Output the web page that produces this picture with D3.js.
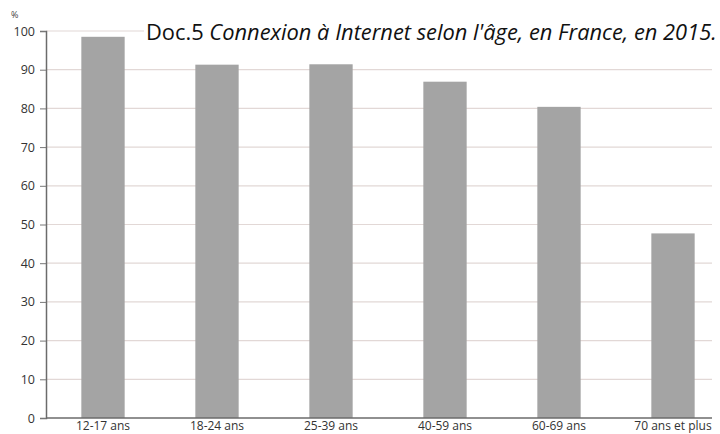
<!DOCTYPE html>
<html>
<head>
<meta charset="utf-8">
<script src="https://cdnjs.cloudflare.com/ajax/libs/d3/7.8.5/d3.min.js"></script>
<style>
	body { margin: 0; background: #fff; }
	svg { display: block; }
</style>
</head>
<body>
<svg id="chart" width="720" height="434"></svg>
<script>
// age groups and share connected (%)
var ageGroups = ['12-17 ans', '18-24 ans', '25-39 ans', '40-59 ans', '60-69 ans', '70 ans et plus'];
var connectPct = [98.5, 91.3, 91.4, 86.9, 80.4, 47.7];
var yTicks = [0, 10, 20, 30, 40, 50, 60, 70, 80, 90, 100];

var svg = d3.select('#chart');

var x = d3.scaleBand()
	.domain(ageGroups)
	.range([46, 730])
	.paddingInner(0.62)
	.paddingOuter(0.31);

var y = d3.scaleLinear()
	.domain([0, 100])
	.range([418, 31]);

// gridlines
svg.append('g')
	.selectAll('line')
	.data(yTicks.slice(1))
	.enter()
	.append('line')
	.attr('x1', 46)
	.attr('x2', 712)
	.attr('y1', function(d) { return y(d); })
	.attr('y2', function(d) { return y(d); })
	.attr('stroke', '#e2d8d6')
	.attr('stroke-width', 1.2);

// bars
svg.append('g')
	.selectAll('rect')
	.data(connectPct)
	.enter()
	.append('rect')
	.attr('x', function(d, i) { return x(ageGroups[i]); })
	.attr('width', x.bandwidth())
	.attr('y', function(d) { return y(d); })
	.attr('height', function(d) { return y(0) - y(d); })
	.attr('fill', '#a4a4a4');

// y axis
var yAxis = svg.append('g')
	.attr('transform', 'translate(46,0)')
	.call(d3.axisLeft(y).tickValues(yTicks).tickSize(6).tickPadding(5));
yAxis.select('.domain').attr('stroke', '#6b6b6b').attr('stroke-width', 1.5);
yAxis.selectAll('.tick line').attr('stroke', '#777');
yAxis.selectAll('.tick text')
	.attr('fill', '#333')
	.style('font-family', '"Open Sans", sans-serif')
	.style('font-size', '12.5px');

// baseline
svg.append('line')
	.attr('x1', 46).attr('x2', 712)
	.attr('y1', y(0)).attr('y2', y(0))
	.attr('stroke', '#6b6b6b')
	.attr('stroke-width', 1.5);

// x labels
svg.append('g')
	.selectAll('text')
	.data(ageGroups)
	.enter()
	.append('text')
	.attr('x', function(d) { return x(d) + x.bandwidth() / 2; })
	.attr('y', 430)
	.attr('text-anchor', 'middle')
	.attr('fill', '#333')
	.style('font-family', '"Open Sans", sans-serif')
	.style('font-size', '12px')
	.text(function(d) { return d; });

// unit label
svg.append('text')
	.attr('x', 11).attr('y', 18)
	.attr('fill', '#444')
	.style('font-family', '"Open Sans", sans-serif')
	.style('font-size', '9px')
	.text('%');

// title with white box over the 100 gridline
var titleG = svg.append('g');
var titleBox = titleG.append('rect').attr('fill', '#fff');
var title = titleG.append('text')
	.attr('x', 146).attr('y', 40)
	.attr('fill', '#111')
	.style('font-family', '"Open Sans", sans-serif')
	.style('font-size', '18px');
title.append('tspan').text('Doc.5 ');
title.append('tspan').style('font-style', 'italic').text("Connexion à Internet selon l'âge, en France, en 2015.");

// stretch font so title spans roughly 146 -> 717
var w = title.node().getComputedTextLength();
title.style('font-size', (18 * 571 / w) + 'px');

var bb = title.node().getBBox();
titleBox
	.attr('x', bb.x - 2).attr('y', bb.y + 3)
	.attr('width', bb.width + 4).attr('height', bb.height - 6);
</script>
</body>
</html>
